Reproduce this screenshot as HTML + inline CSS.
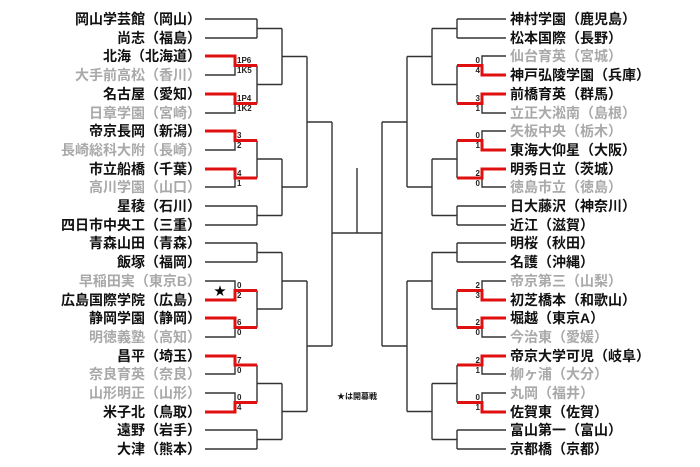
<!DOCTYPE html>
<html><head><meta charset="utf-8"><style>
html,body{margin:0;padding:0;background:#fff;}
svg{display:block;}
text{font-family:"Liberation Sans","Noto Sans CJK JP",sans-serif;font-weight:bold;}
.n{font-size:14px;fill:#111;}
.g{font-size:14px;fill:#a9a9a9;}
.s{font-size:8px;fill:#222;}
</style></head><body>
<svg width="700" height="467" viewBox="0 0 700 467" xmlns="http://www.w3.org/2000/svg">
<g fill="none" stroke="#333" stroke-width="1.4">
<!-- LEFT -->
<path d="M205 19H257M205 38H257M257 19V38M257 28.5H282"/>
<path d="M205 75H235V65.5M205 113H235V103.5"/>
<path d="M257 65.5V103.5M257 84.5H282M282 28.5V84.5M282 56.5H307"/>
<path d="M205 150H235V140.5M205 187H235V178"/>
<path d="M257 140.5V178M257 159H282"/>
<path d="M205 206H257M205 225H257M257 206V225M257 215.5H282M282 159V215.5M282 187H307M307 56.5V187M307 122H332"/>
<path d="M205 243H257M205 262H257M257 243V262M257 252.5H282"/>
<path d="M205 281H235V290.5M205 337H235V327.5"/>
<path d="M257 290.5V327.5M257 309H282M282 252.5V309M282 281H307"/>
<path d="M205 374H235V365M205 393H235V402.5"/>
<path d="M257 365V402.5M257 383.5H282"/>
<path d="M205 430H257M205 449H257M257 430V449M257 439.5H282M282 383.5V439.5M282 411.5H307M307 281V411.5M307 346H332"/>
<path d="M332 122V346M332 233H382M357 168V233M382 122V346"/>
<!-- RIGHT -->
<path d="M506 19H457M506 38H457M457 19V38M457 28.5H432"/>
<path d="M506 56H482V65.5M506 113H482V103.5"/>
<path d="M457 65.5V103.5M457 84.5H432M432 28.5V84.5M432 56.5H407"/>
<path d="M506 131H482V140.5M506 187H482V178"/>
<path d="M457 140.5V178M457 159H432"/>
<path d="M506 206H457M506 225H457M457 206V225M457 215.5H432M432 159V215.5M432 187H407M407 56.5V187M407 122H382"/>
<path d="M506 243H457M506 262H457M457 243V262M457 252.5H432"/>
<path d="M506 281H482V290.5M506 337H482V327.5"/>
<path d="M457 290.5V327.5M457 309H432M432 252.5V309M432 281H407"/>
<path d="M506 374H482V365M506 393H482V402.5"/>
<path d="M457 365V402.5M457 383.5H432"/>
<path d="M506 430H457M506 449H457M457 430V449M457 439.5H432M432 383.5V439.5M432 411.5H407M407 281V411.5M407 346H382"/>
</g>
<g fill="none" stroke="#e01010" stroke-width="3">
<path d="M205 56H235V65.5H257"/>
<path d="M205 94H235V103.5H257"/>
<path d="M205 131H235V140.5H257"/>
<path d="M205 169H235V178H257"/>
<path d="M205 300H235V290.5H257"/>
<path d="M205 318H235V327.5H257"/>
<path d="M205 356H235V365H257"/>
<path d="M205 412H235V402.5H257"/>
<path d="M506 75H482V65.5H457"/>
<path d="M506 94H482V103.5H457"/>
<path d="M506 150H482V140.5H457"/>
<path d="M506 169H482V178H457"/>
<path d="M506 300H482V290.5H457"/>
<path d="M506 318H482V327.5H457"/>
<path d="M506 356H482V365H457"/>
<path d="M506 412H482V402.5H457"/>
</g>
<!-- left names -->
<g text-anchor="end">
<text class="n" x="201" y="24">岡山学芸館（岡山）</text>
<text class="n" x="201" y="43">尚志（福島）</text>
<text class="n" x="201" y="61">北海（北海道）</text>
<text class="g" x="201" y="80">大手前高松（香川）</text>
<text class="n" x="201" y="99">名古屋（愛知）</text>
<text class="g" x="201" y="118">日章学園（宮崎）</text>
<text class="n" x="201" y="136">帝京長岡（新潟）</text>
<text class="g" x="201" y="155">長崎総科大附（長崎）</text>
<text class="n" x="201" y="174">市立船橋（千葉）</text>
<text class="g" x="201" y="192">高川学園（山口）</text>
<text class="n" x="201" y="211">星稜（石川）</text>
<text class="n" x="201" y="230">四日市中央工（三重）</text>
<text class="n" x="201" y="248">青森山田（青森）</text>
<text class="n" x="201" y="267">飯塚（福岡）</text>
<text class="g" x="201" y="286">早稲田実（東京B）</text>
<text class="n" x="201" y="305">広島国際学院（広島）</text>
<text class="n" x="201" y="323">静岡学園（静岡）</text>
<text class="g" x="201" y="342">明徳義塾（高知）</text>
<text class="n" x="201" y="361">昌平（埼玉）</text>
<text class="g" x="201" y="379">奈良育英（奈良）</text>
<text class="g" x="201" y="398">山形明正（山形）</text>
<text class="n" x="201" y="417">米子北（鳥取）</text>
<text class="n" x="201" y="435">遠野（岩手）</text>
<text class="n" x="201" y="454">大津（熊本）</text>
</g>
<!-- right names -->
<g>
<text class="n" x="510" y="24">神村学園（鹿児島）</text>
<text class="n" x="510" y="43">松本国際（長野）</text>
<text class="g" x="510" y="61">仙台育英（宮城）</text>
<text class="n" x="510" y="80">神戸弘陵学園（兵庫）</text>
<text class="n" x="510" y="99">前橋育英（群馬）</text>
<text class="g" x="510" y="118">立正大淞南（島根）</text>
<text class="g" x="510" y="136">矢板中央（栃木）</text>
<text class="n" x="510" y="155">東海大仰星（大阪）</text>
<text class="n" x="510" y="174">明秀日立（茨城）</text>
<text class="g" x="510" y="192">徳島市立（徳島）</text>
<text class="n" x="510" y="211">日大藤沢（神奈川）</text>
<text class="n" x="510" y="230">近江（滋賀）</text>
<text class="n" x="510" y="248">明桜（秋田）</text>
<text class="n" x="510" y="267">名護（沖縄）</text>
<text class="g" x="510" y="286">帝京第三（山梨）</text>
<text class="n" x="510" y="305">初芝橋本（和歌山）</text>
<text class="n" x="510" y="323">堀越（東京A）</text>
<text class="g" x="510" y="342">今治東（愛媛）</text>
<text class="n" x="510" y="361">帝京大学可児（岐阜）</text>
<text class="g" x="510" y="379">柳ヶ浦（大分）</text>
<text class="g" x="510" y="398">丸岡（福井）</text>
<text class="n" x="510" y="417">佐賀東（佐賀）</text>
<text class="n" x="510" y="435">富山第一（富山）</text>
<text class="n" x="510" y="454">京都橋（京都）</text>
</g>
<!-- left scores -->
<g class="s">
<text class="s" x="237" y="63">1P6</text><text class="s" x="237" y="73">1K5</text>
<text class="s" x="237" y="101">1P4</text><text class="s" x="237" y="111">1K2</text>
<text class="s" x="237" y="138">3</text><text class="s" x="237" y="148">2</text>
<text class="s" x="237" y="176">4</text><text class="s" x="237" y="186">1</text>
<text class="s" x="237" y="288">0</text><text class="s" x="237" y="298">2</text>
<text class="s" x="237" y="325">6</text><text class="s" x="237" y="335">0</text>
<text class="s" x="237" y="363">7</text><text class="s" x="237" y="373">0</text>
<text class="s" x="237" y="400">0</text><text class="s" x="237" y="410">4</text>
</g>
<text x="214" y="295" style="font-size:12px;fill:#000">★</text>
<!-- right scores -->
<g text-anchor="end">
<text class="s" x="480" y="63">0</text><text class="s" x="480" y="73">4</text>
<text class="s" x="480" y="101">3</text><text class="s" x="480" y="111">1</text>
<text class="s" x="480" y="138">0</text><text class="s" x="480" y="148">1</text>
<text class="s" x="480" y="176">2</text><text class="s" x="480" y="186">0</text>
<text class="s" x="480" y="288">2</text><text class="s" x="480" y="298">3</text>
<text class="s" x="480" y="325">2</text><text class="s" x="480" y="335">0</text>
<text class="s" x="480" y="363">2</text><text class="s" x="480" y="373">1</text>
<text class="s" x="480" y="400">0</text><text class="s" x="480" y="410">1</text>
</g>
<text x="357" y="399" text-anchor="middle" style="font-size:8px;fill:#111">★は開幕戦</text>
</svg>
</body></html>
